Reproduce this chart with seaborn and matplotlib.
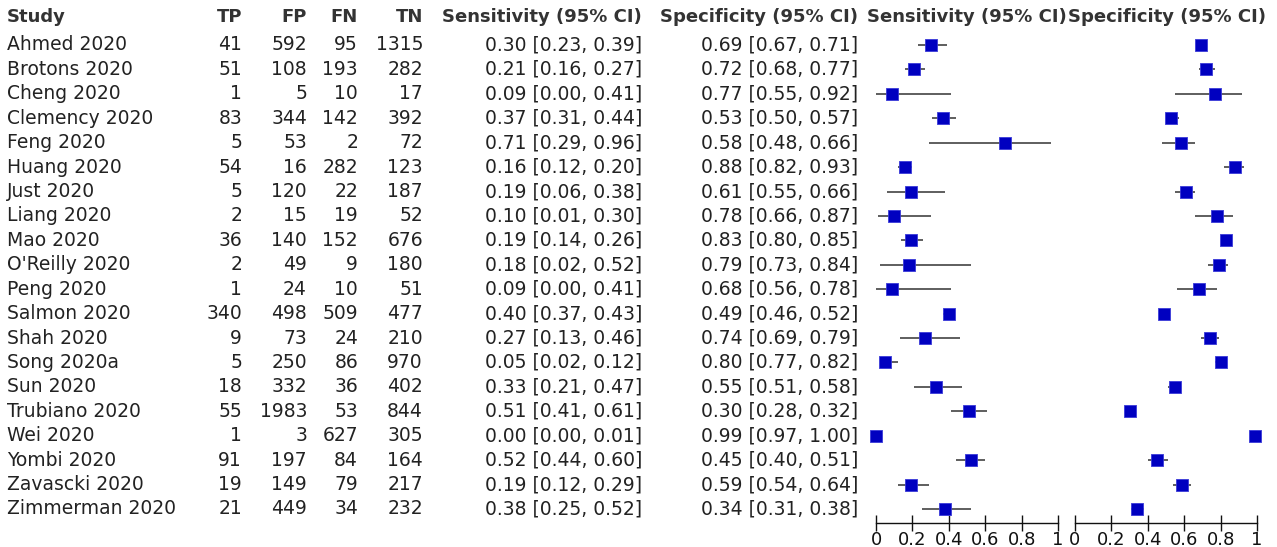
import numpy as np
import pandas as pd
import matplotlib
matplotlib.use("Agg")
import matplotlib.pyplot as plt
import seaborn as sns

# study-level 2x2 data and accuracy estimates
studies = ["Ahmed 2020", "Brotons 2020", "Cheng 2020", "Clemency 2020", "Feng 2020",
           "Huang 2020", "Just 2020", "Liang 2020", "Mao 2020", "O'Reilly 2020",
           "Peng 2020", "Salmon 2020", "Shah 2020", "Song 2020a", "Sun 2020",
           "Trubiano 2020", "Wei 2020", "Yombi 2020", "Zavascki 2020", "Zimmerman 2020"]
tp = [41, 51, 1, 83, 5, 54, 5, 2, 36, 2, 1, 340, 9, 5, 18, 55, 1, 91, 19, 21]
fp = [592, 108, 5, 344, 53, 16, 120, 15, 140, 49, 24, 498, 73, 250, 332, 1983, 3, 197, 149, 449]
fn = [95, 193, 10, 142, 2, 282, 22, 19, 152, 9, 10, 509, 24, 86, 36, 53, 627, 84, 79, 34]
tn = [1315, 282, 17, 392, 72, 123, 187, 52, 676, 180, 51, 477, 210, 970, 402, 844, 305, 164, 217, 232]
sens = [0.30, 0.21, 0.09, 0.37, 0.71, 0.16, 0.19, 0.10, 0.19, 0.18,
        0.09, 0.40, 0.27, 0.05, 0.33, 0.51, 0.00, 0.52, 0.19, 0.38]
sens_lo = [0.23, 0.16, 0.00, 0.31, 0.29, 0.12, 0.06, 0.01, 0.14, 0.02,
           0.00, 0.37, 0.13, 0.02, 0.21, 0.41, 0.00, 0.44, 0.12, 0.25]
sens_hi = [0.39, 0.27, 0.41, 0.44, 0.96, 0.20, 0.38, 0.30, 0.26, 0.52,
           0.41, 0.43, 0.46, 0.12, 0.47, 0.61, 0.01, 0.60, 0.29, 0.52]
spec = [0.69, 0.72, 0.77, 0.53, 0.58, 0.88, 0.61, 0.78, 0.83, 0.79,
        0.68, 0.49, 0.74, 0.80, 0.55, 0.30, 0.99, 0.45, 0.59, 0.34]
spec_lo = [0.67, 0.68, 0.55, 0.50, 0.48, 0.82, 0.55, 0.66, 0.80, 0.73,
           0.56, 0.46, 0.69, 0.77, 0.51, 0.28, 0.97, 0.40, 0.54, 0.31]
spec_hi = [0.71, 0.77, 0.92, 0.57, 0.66, 0.93, 0.66, 0.87, 0.85, 0.84,
           0.78, 0.52, 0.79, 0.82, 0.58, 0.32, 1.00, 0.51, 0.64, 0.38]

df = pd.DataFrame({"study": studies, "tp": tp, "fp": fp, "fn": fn, "tn": tn,
                   "sens": sens, "sens_lo": sens_lo, "sens_hi": sens_hi,
                   "spec": spec, "spec_lo": spec_lo, "spec_hi": spec_hi})
df["row"] = np.arange(len(df))

sns.set_theme(style="white")
plt.rcParams["font.family"] = ["DejaVu Sans"]

W, H = 1277, 547
fig = plt.figure(figsize=(W / 100, H / 100), dpi=100)

# row geometry (pixels)
y0, dy = 45.0, 24.42
def px_to_row(py):
    return (py - y0) / dy

# table axes: x in pixels, y in row units
tab = fig.add_axes([0, 0, 1, 1])
tab.set_xlim(0, W)
tab.set_ylim(px_to_row(H), px_to_row(0))
tab.axis("off")

hdr_y = px_to_row(17)
body_fs = 13.5
hdr_kw = dict(fontsize=13, fontweight="bold", color="#333333", va="center")
tab.text(7, hdr_y, "Study", ha="left", **hdr_kw)
for label, x in [("TP", 242), ("FP", 307), ("FN", 358), ("TN", 423)]:
    tab.text(x, hdr_y, label, ha="right", **hdr_kw)
tab.text(442, hdr_y, "Sensitivity (95% CI)", ha="left", **hdr_kw)
tab.text(660, hdr_y, "Specificity (95% CI)", ha="left", **hdr_kw)
tab.text(867, hdr_y, "Sensitivity (95% CI)", ha="left", **hdr_kw)
tab.text(1068, hdr_y, "Specificity (95% CI)", ha="left", **hdr_kw)

txt_kw = dict(fontsize=body_fs, color="#222222", va="center")
for _, r in df.iterrows():
    y = r["row"]
    tab.text(7, y, r["study"], ha="left", **txt_kw)
    tab.text(242, y, str(r["tp"]), ha="right", **txt_kw)
    tab.text(307, y, str(r["fp"]), ha="right", **txt_kw)
    tab.text(358, y, str(r["fn"]), ha="right", **txt_kw)
    tab.text(423, y, str(r["tn"]), ha="right", **txt_kw)
    tab.text(642, y, f"{r['sens']:.2f} [{r['sens_lo']:.2f}, {r['sens_hi']:.2f}]",
             ha="right", **txt_kw)
    tab.text(858, y, f"{r['spec']:.2f} [{r['spec_lo']:.2f}, {r['spec_hi']:.2f}]",
             ha="right", **txt_kw)

# forest panels
ax_top, ax_bot = 30, 523
for left, metric in [(876, "sens"), (1075, "spec")]:
    ax = fig.add_axes([left / W, 1 - ax_bot / H, 182 / W, (ax_bot - ax_top) / H])
    ax.patch.set_alpha(0)
    ax.hlines(df["row"], df[metric + "_lo"], df[metric + "_hi"],
              color="#333333", lw=1.1, zorder=2)
    sns.scatterplot(data=df, x=metric, y="row", marker="s", s=75,
                    color="#0000C0", edgecolor="#3a3ad8", linewidth=0.6,
                    ax=ax, zorder=3, legend=False, clip_on=False)
    ax.set_xlim(0, 1)
    ax.set_ylim(px_to_row(ax_bot), px_to_row(ax_top))
    ax.set_yticks([])
    ax.set_xticks(np.arange(0, 1.01, 0.2))
    ax.set_xticklabels(["0", "0.2", "0.4", "0.6", "0.8", "1"])
    ax.tick_params(axis="x", direction="inout", length=12, width=1,
                   labelsize=13, pad=0, colors="#111111", bottom=True)
    for s in ["left", "top", "right"]:
        ax.spines[s].set_visible(False)
    ax.spines["bottom"].set_color("#111111")
    ax.spines["bottom"].set_linewidth(1)
    ax.set_xlabel("")
    ax.set_ylabel("")

fig.savefig("out.png", dpi=100)
